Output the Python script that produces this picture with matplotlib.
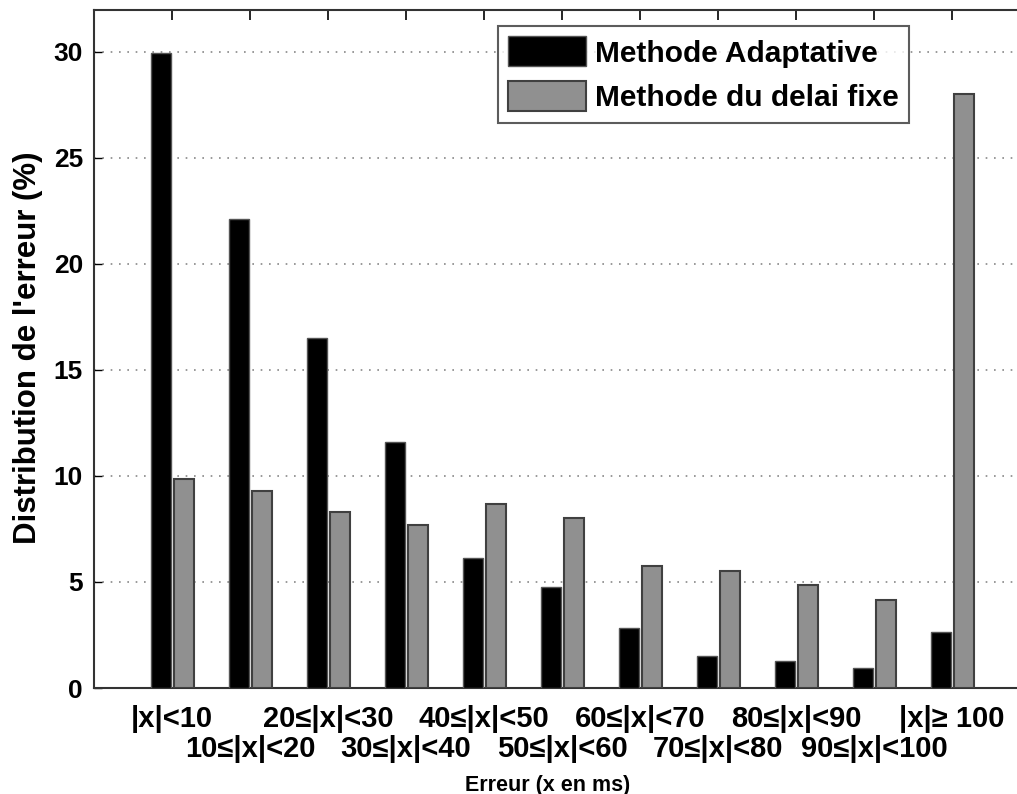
import matplotlib
matplotlib.use("Agg")
import matplotlib.pyplot as plt
import numpy as np

categories = ["|x|<10", "10≤|x|<20", "20≤|x|<30", "30≤|x|<40", "40≤|x|<50",
              "50≤|x|<60", "60≤|x|<70", "70≤|x|<80", "80≤|x|<90", "90≤|x|<100",
              "|x|≥ 100"]
adaptative = [29.95, 22.1, 16.5, 11.6, 6.15, 4.75, 2.85, 1.5, 1.25, 0.95, 2.65]
delai_fixe = [9.85, 9.3, 8.3, 7.7, 8.7, 8.0, 5.75, 5.5, 4.85, 4.15, 28.0]
yticks = [0, 5, 10, 15, 20, 25, 30]

fam = ["Liberation Sans", "DejaVu Sans"]

fig = plt.figure(figsize=(10.17, 7.94), dpi=100)
ax = fig.add_axes([94/1017, 106/794, 936/1017, 678.5/794])

x = np.arange(1, len(categories) + 1)
w = 0.255
ax.bar(x - 0.145, adaptative, width=w, color="black", edgecolor="#555555",
       linewidth=1.0, label="Methode Adaptative", zorder=3)
ax.bar(x + 0.15, delai_fixe, width=w, color="#909090", edgecolor="#404040",
       linewidth=1.5, label="Methode du delai fixe", zorder=3)

ax.set_xlim(0, 12)
ax.set_ylim(0, 32)
ax.set_yticks(yticks)
ax.set_yticklabels([str(v) for v in yticks], fontsize=19, fontweight="bold",
                   family=fam)
ax.yaxis.grid(True, linestyle=(0, (1, 4)), color="#888888", linewidth=1.2,
              zorder=0)
ax.set_axisbelow(True)

# two-row category labels: odd positions on first row, even on second row
major_pos = x[0::2]
minor_pos = x[1::2]
ax.set_xticks(major_pos)
ax.set_xticklabels(categories[0::2], fontsize=21, fontweight="bold", family=fam)
ax.set_xticks(minor_pos, minor=True)
ax.set_xticklabels(categories[1::2], minor=True, fontsize=21,
                   fontweight="bold", family=fam)
ax.tick_params(axis="x", which="major", direction="in", length=7, width=1.2,
               pad=12, top=True, bottom=False)
ax.tick_params(axis="x", which="minor", direction="in", length=7, width=1.2,
               pad=34, top=True, bottom=False)
ax.tick_params(axis="y", direction="in", length=6, width=1, pad=8)

for s in ax.spines.values():
    s.set_linewidth(1.5)
    s.set_color("#333333")

ax.set_ylabel("Distribution de l'erreur (%)", fontsize=22.5, fontweight="bold",
              family=fam)
ax.yaxis.set_label_coords(-(94 - 43) / 936, (688 - 348) / 678.5)
ax.set_xlabel("Erreur (x en ms)", fontsize=15.5, fontweight="bold", family=fam)
ax.xaxis.set_label_coords((548 - 94) / 936, -(775 - 688) / 678.5)

leg = ax.legend(loc="upper left", bbox_to_anchor=((498 - 94) / 936, 1 - 16.5 / 678.5),
                prop={"weight": "bold", "size": 21.5, "family": fam},
                frameon=True, fancybox=False, edgecolor="#333333",
                handlelength=2.6, handleheight=1.17, borderpad=0.35,
                labelspacing=0.45, handletextpad=0.3, borderaxespad=0)
leg.get_frame().set_linewidth(1.5)

fig.savefig("out.png", dpi=100)
